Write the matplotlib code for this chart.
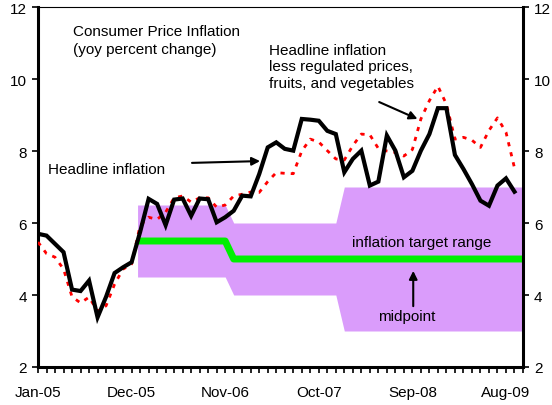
import matplotlib
matplotlib.use("Agg")
import matplotlib.pyplot as plt
import numpy as np

plt.rcParams['font.family'] = ['Liberation Sans', 'DejaVu Sans']

# monthly data, Jan-05 .. Sep-09 (index 0..56)
headline = [5.70, 5.65, 5.42, 5.19, 4.15, 4.11, 4.40, 3.38, 3.95, 4.61,
            4.77, 4.91, 5.75, 6.67, 6.53, 5.94, 6.65, 6.68, 6.20, 6.68,
            6.66, 6.02, 6.16, 6.34, 6.76, 6.74, 7.36, 8.10, 8.24, 8.06,
            8.01, 8.89, 8.87, 8.84, 8.56, 8.47, 7.41, 7.78, 8.01, 7.04,
            7.15, 8.43, 8.01, 7.27, 7.45, 8.01, 8.47, 9.19, 9.19, 7.89,
            7.50, 7.08, 6.62, 6.48, 7.04, 7.24, 6.87]

core = [5.47, 5.15, 5.05, 4.72, 3.95, 3.78, 3.94, 3.55, 3.70, 4.30,
        4.72, 4.86, 5.93, 6.16, 6.10, 6.30, 6.70, 6.75, 6.58, 6.70,
        6.70, 6.44, 6.50, 6.75, 6.80, 6.86, 6.85, 7.15, 7.40, 7.38,
        7.37, 8.00, 8.33, 8.25, 8.01, 7.78, 7.75, 8.15, 8.47, 8.45,
        8.07, 8.00, 7.96, 7.86, 8.04, 8.89, 9.40, 9.80, 9.30, 8.33,
        8.38, 8.30, 8.10, 8.57, 8.92, 8.52, 7.53]

# inflation target band
band_x = [11.7, 22, 23, 35, 36, 57]
band_lo = [4.5, 4.5, 4.0, 4.0, 3.0, 3.0]
band_hi = [6.5, 6.5, 6.0, 6.0, 7.0, 7.0]
mid_x = [11.7, 22, 23, 57]
mid_y = [5.5, 5.5, 5.0, 5.0]

xlabels = ['Jan-05', 'Dec-05', 'Nov-06', 'Oct-07', 'Sep-08', 'Aug-09']
xlabel_pos = [0, 11, 22, 33, 44, 55]

fig = plt.figure(figsize=(5.52, 4.06), dpi=100)
ax = fig.add_axes([38/552, 38/406, 485/552, 360/406])

months = np.arange(len(headline))
ax.fill_between(band_x, band_lo, band_hi, color='#DA9CFB', lw=0, zorder=1)
ax.plot(mid_x, mid_y, color='#00F000', lw=5, zorder=2, solid_capstyle='butt')
ax.plot(months, core, color='red', lw=2, linestyle=(0, (1.5, 2.2)), zorder=3)
ax.plot(months, headline, color='black', lw=3, zorder=4, solid_joinstyle='miter')

ax.set_xlim(0, 57)
ax.set_ylim(2, 12)
ax.set_yticks([2, 4, 6, 8, 10, 12])
ax.set_xticks(xlabel_pos)
ax.set_xticklabels(xlabels)
ax.set_xticks(np.arange(0, 58), minor=True)
ax.tick_params(axis='x', which='both', direction='out', length=4, width=1.2,
               labelsize=11, pad=9)
ax.tick_params(axis='y', which='both', direction='out', length=4, width=1.2,
               labelsize=11, left=True, right=True, labelleft=True, labelright=True, pad=4)

for s in ['left', 'right', 'bottom']:
    ax.spines[s].set_linewidth(2.2)
ax.spines['top'].set_linewidth(0.8)

ax.text(4.1, 11.08, 'Consumer Price Inflation\n(yoy percent change)', fontsize=11,
        ha='left', va='center', linespacing=1.4)
ax.text(27.2, 10.35, 'Headline inflation\nless regulated prices,\nfruits, and vegetables',
        fontsize=11, ha='left', va='center', linespacing=1.25)
ax.text(1.2, 7.5, 'Headline inflation', fontsize=11, ha='left', va='center')
ax.text(45.1, 5.47, 'inflation target range', fontsize=11, ha='center', va='center')
ax.text(43.3, 3.42, 'midpoint', fontsize=11, ha='center', va='center')

arrow = dict(arrowstyle='-|>', color='black', lw=1.5, mutation_scale=12,
             shrinkA=0, shrinkB=0)
ax.annotate('', xy=(26.1, 7.72), xytext=(18.1, 7.67), arrowprops=arrow)
ax.annotate('', xy=(44.6, 8.89), xytext=(40.1, 9.36), arrowprops=arrow)
ax.annotate('', xy=(44.1, 4.67), xytext=(44.1, 3.69), arrowprops=arrow)

plt.savefig('out.png', dpi=100)
